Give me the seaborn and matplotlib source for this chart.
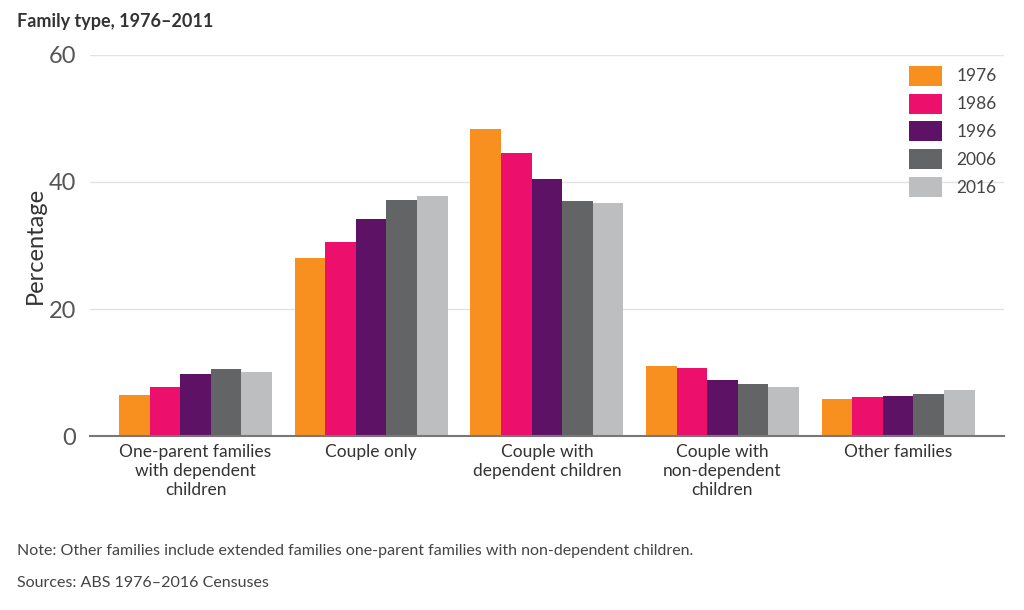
import pandas as pd
import matplotlib.pyplot as plt
import seaborn as sns

categories = ["One-parent families\nwith dependent\nchildren", "Couple only",
              "Couple with\ndependent children", "Couple with\nnon-dependent\nchildren",
              "Other families"]
years = ["1976", "1986", "1996", "2006", "2016"]
values = {
    "1976": [6.4, 28.1, 48.3, 11.1, 5.8],
    "1986": [7.7, 30.6, 44.6, 10.7, 6.1],
    "1996": [9.8, 34.1, 40.5, 8.9, 6.3],
    "2006": [10.6, 37.2, 37.0, 8.2, 6.7],
    "2016": [10.1, 37.8, 36.7, 7.8, 7.2],
}
colors = ["#F7901E", "#EC0F6B", "#5E1266", "#636466", "#BCBEC0"]

rows = []
for y in years:
    for c, v in zip(categories, values[y]):
        rows.append({"Family": c, "Year": y, "Percentage": v})
df = pd.DataFrame(rows)

sns.set_style("white")
plt.rcParams['font.family'] = ['Lato', 'DejaVu Sans']

fig = plt.figure(figsize=(10.24, 6.1), dpi=100)
ax = fig.add_axes([0.088, 0.285, 0.892, 0.625])

sns.barplot(data=df, x="Family", y="Percentage", hue="Year", palette=colors,
            width=0.87, saturation=1, linewidth=0, ax=ax, zorder=3)

ax.set_xlim(-0.6, 4.6)
ax.set_ylim(0, 60)
ax.set_yticks([0, 20, 40, 60])
ax.yaxis.grid(True, color="#e3e3e3", linewidth=1, zorder=0)
ax.set_axisbelow(True)
for s in ["left", "right", "top"]:
    ax.spines[s].set_visible(False)
ax.spines["bottom"].set_color("#777777")
ax.spines["bottom"].set_linewidth(1.5)
ax.spines["bottom"].set_zorder(5)
ax.tick_params(axis="y", length=0, labelsize=17, labelcolor="#555555", pad=10)
ax.tick_params(axis="x", length=0, labelsize=12.5, labelcolor="#333333", pad=6)
ax.set_xlabel("")
ax.set_ylabel("Percentage", fontsize=17, color="#333333", labelpad=2)

leg = ax.legend(loc="upper right", bbox_to_anchor=(1.0, 0.99), frameon=False,
                fontsize=12.5, handlelength=1.9, handleheight=1.4,
                labelspacing=0.45, handletextpad=0.8, borderaxespad=0)
for t in leg.get_texts():
    t.set_color("#444444")

fig.text(0.017, 0.955, "Family type, 1976\u20132011", fontsize=13, fontweight="bold",
         color="#333333")
fig.text(0.017, 0.09, "Note: Other families include extended families one-parent families with non-dependent children.",
         fontsize=11.5, color="#444444")
fig.text(0.017, 0.038, "Sources: ABS 1976\u20132016 Censuses", fontsize=11.5, color="#444444")

plt.savefig("out.png", dpi=100)
